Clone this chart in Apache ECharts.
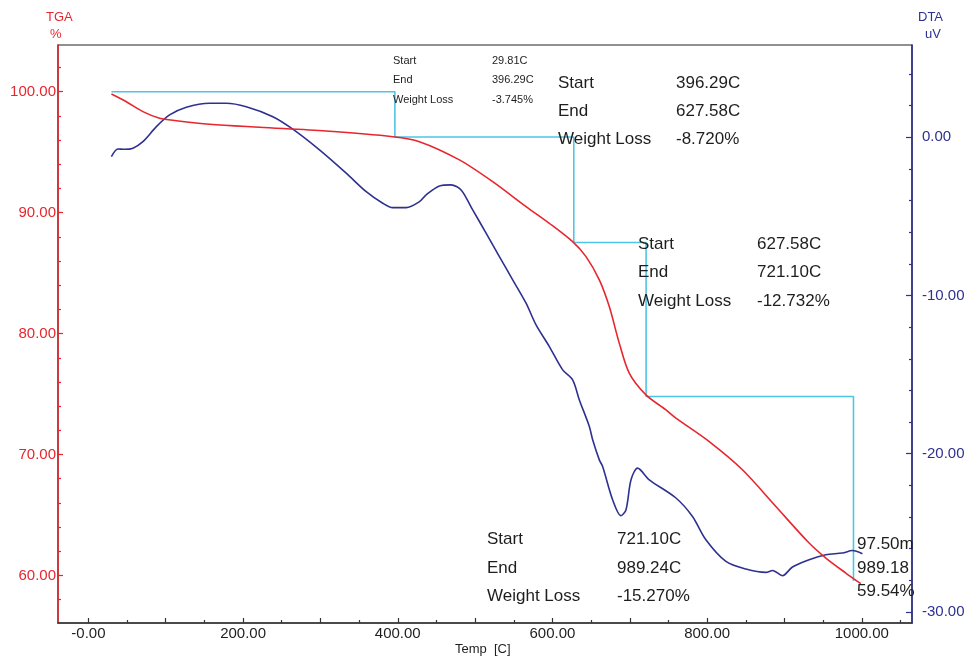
<!DOCTYPE html>
<html>
<head>
<meta charset="utf-8">
<script src="https://cdn.jsdelivr.net/npm/echarts@6/dist/echarts.min.js"></script>
<style>
html,body{margin:0;padding:0;background:#fff;}
#chart{width:968px;height:662px;}
</style>
</head>
<body>
<div id="chart"></div>
<script>
// ---- data ----
var tgaTemp  = [29.8, 49.1, 70.5, 92.1, 113.7, 156.7, 221.3, 307.5, 393.5, 428.0, 479.7, 522.7, 565.9, 596.0, 626.1, 643.4, 660.6, 673.5, 686.4, 699.3, 720.9, 746.8, 759.7, 802.7, 845.7, 888.9, 931.9, 953.5, 979.3, 998.7];
var tgaValue = [99.81, 99.17, 98.35, 97.80, 97.60, 97.31, 97.06, 96.75, 96.28, 95.87, 94.36, 92.56, 90.50, 89.12, 87.60, 86.36, 84.44, 82.23, 79.21, 76.73, 74.93, 73.69, 73.01, 71.07, 68.74, 65.70, 62.68, 61.44, 60.20, 59.32];

var dtaTemp  = [29.7, 38.2, 46.9, 57.6, 70.5, 87.9, 105.0, 126.6, 156.7, 178.3, 204.1, 238.5, 264.3, 298.8, 333.3, 359.2, 380.6, 393.5, 410.9, 428.0, 436.7, 453.9, 469.0, 481.9, 496.9, 514.2, 531.4, 548.6, 565.9, 578.8, 596.0, 613.2, 626.1, 634.8, 647.7, 652.0, 660.6, 664.9, 677.8, 688.6, 695.1, 701.6, 710.1, 725.2, 759.7, 781.1, 798.4, 824.3, 850.1, 876.0, 884.6, 897.4, 910.3, 931.9, 953.5, 974.9, 987.8, 1000.8];
var dtaValue = [-1.23, -0.74, -0.76, -0.69, -0.28, 0.67, 1.41, 1.90, 2.15, 2.15, 1.93, 1.30, 0.51, -0.80, -2.27, -3.44, -4.17, -4.45, -4.45, -4.07, -3.64, -3.08, -3.01, -3.33, -4.59, -6.06, -7.54, -9.01, -10.49, -11.86, -13.23, -14.70, -15.33, -16.60, -18.28, -19.12, -20.39, -20.81, -22.91, -23.92, -23.54, -21.65, -20.91, -21.65, -22.80, -23.97, -25.44, -26.81, -27.29, -27.50, -27.38, -27.71, -27.16, -26.70, -26.39, -26.28, -26.12, -26.32];

// weight-loss steps (start temperature of each step + final end), losses in %
var stepTemps = [29.81, 396.29, 627.58, 721.10, 989.24];
var stepLoss  = [3.745, 8.720, 12.732, 15.270];
var startWeight = 100;
var endReadout = ['97.50m', '989.18', '59.54%'];

// axis ticks
var xLabelValues = [0, 200, 400, 600, 800, 1000];
var xMajorTicks  = [0, 100, 200, 300, 400, 500, 600, 700, 800, 900, 1000];
var xMinorTicks  = [50, 150, 250, 350, 450, 550, 650, 750, 850, 950, 1050];
var tgaLabels    = [60, 70, 80, 90, 100];
var tgaMinor     = [58, 62, 64, 66, 68, 72, 74, 76, 78, 82, 84, 86, 88, 92, 94, 96, 98, 102];
var dtaLabels    = [-30, -20, -10, 0];
var dtaMinor     = [-28, -26, -24, -22, -18, -16, -14, -12, -8, -6, -4, -2, 2, 4];

// ---- build ----
var FONT = '"Liberation Sans", Arial, sans-serif';
var RED = '#e8262d', BLUE = '#2e318f', CYAN = '#4fc4e6', DARK = '#1e1e1e';

function pairs(xs, ys){ return xs.map(function(x,i){ return [x, ys[i]]; }); }

var stepLine = [];
var w = startWeight;
stepLine.push([stepTemps[0], w]);
for (var i = 0; i < stepLoss.length; i++) {
  stepLine.push([stepTemps[i+1], w]);
  w = w - stepLoss[i];
  stepLine.push([stepTemps[i+1], +w.toFixed(3)]);
}

var chart = echarts.init(document.getElementById('chart'), null, {renderer: 'canvas'});

function yAxisMajor(pos, min, max, color, ticks, labels, margin, tickLen){
  return {
    type: 'value', position: pos, min: min, max: max,
    axisLine: {show: true, onZero: false, lineStyle: {color: color, width: 1.5}},
    axisTick: {show: true, inside: true, length: tickLen, customValues: ticks, lineStyle: {color: color, width: 1.2}},
    axisLabel: {show: true, customValues: labels, margin: margin, color: color, fontSize: 15, fontFamily: FONT,
      formatter: function(v){ return v.toFixed(2); }},
    splitLine: {show: false}
  };
}
function yAxisMinor(pos, min, max, color, ticks){
  return {
    type: 'value', position: pos, min: min, max: max,
    axisLine: {show: false, onZero: false},
    axisTick: {show: true, inside: true, length: 3, customValues: ticks, lineStyle: {color: color, width: 1.2}},
    axisLabel: {show: false},
    splitLine: {show: false}
  };
}

var TGA_MIN = 56.07, TGA_MAX = 103.86, DTA_MIN = -30.70, DTA_MAX = 5.83, X_MIN = -39.3, X_MAX = 1064.9;

var labelTexts = ['Start', 'End', 'Weight Loss'];
function block(x1, x2, ys, values, size){
  var out = [];
  for (var k = 0; k < 3; k++) {
    out.push({type: 'text', left: x1, top: ys[k], style: {text: labelTexts[k], fill: DARK, font: size + 'px ' + FONT, textVerticalAlign: 'middle'}, z: 100});
    out.push({type: 'text', left: x2, top: ys[k], style: {text: values[k], fill: DARK, font: size + 'px ' + FONT, textVerticalAlign: 'middle'}, z: 100});
  }
  return out;
}
function stepValues(i){
  return [stepTemps[i].toFixed(2) + 'C', stepTemps[i+1].toFixed(2) + 'C', '-' + stepLoss[i].toFixed(3) + '%'];
}

var graphics = [];
graphics = graphics.concat(block(393, 492, [55, 74, 94], stepValues(0), 11));
graphics = graphics.concat(block(558, 676, [75, 103, 131], stepValues(1), 17));
graphics = graphics.concat(block(638, 757, [236, 264, 293], stepValues(2), 17));
graphics = graphics.concat(block(487, 617, [531, 560, 588], stepValues(3), 17));
[536, 560, 583].forEach(function(y, k){
  graphics.push({type: 'text', left: 857, top: y, style: {text: endReadout[k], fill: DARK, font: '17px ' + FONT, textVerticalAlign: 'middle'}, z: 100});
});
graphics.push({type: 'text', left: 46, top: 11, style: {text: 'TGA', fill: RED, font: '13px ' + FONT, textAlign: 'center'}});
graphics.push({type: 'text', left: 50, top: 28, style: {text: '%', fill: RED, font: '13px ' + FONT, textAlign: 'center'}});
graphics.push({type: 'text', left: 918, top: 11, style: {text: 'DTA', fill: BLUE, font: '13px ' + FONT}});
graphics.push({type: 'text', left: 925, top: 28, style: {text: 'uV', fill: BLUE, font: '13px ' + FONT}});
graphics.push({type: 'text', left: 455, top: 643, style: {text: 'Temp  [C]', fill: DARK, font: '13px ' + FONT}});

var option = {
  animation: false,
  backgroundColor: '#fff',
  grid: {left: 58, right: 56, top: 45, bottom: 39, show: true, borderColor: '#222', borderWidth: 1.2},
  xAxis: [
    {
      type: 'value', position: 'bottom', min: X_MIN, max: X_MAX,
      axisLine: {show: true, onZero: false, lineStyle: {color: '#333', width: 1.5}},
      axisTick: {show: true, inside: true, length: 5, customValues: xMajorTicks, lineStyle: {color: '#333', width: 1.2}},
      axisLabel: {show: true, customValues: xLabelValues, margin: 3, color: DARK, fontSize: 15, fontFamily: FONT,
        formatter: function(v){ return v === 0 ? '-0.00' : v.toFixed(2); }},
      splitLine: {show: false}
    },
    {
      type: 'value', position: 'bottom', min: X_MIN, max: X_MAX,
      axisLine: {show: false, onZero: false},
      axisTick: {show: true, inside: true, length: 3, customValues: xMinorTicks, lineStyle: {color: '#333', width: 1.2}},
      axisLabel: {show: false},
      splitLine: {show: false}
    }
  ],
  yAxis: [
    yAxisMajor('left', TGA_MIN, TGA_MAX, RED, tgaLabels, tgaLabels, 2, 5),
    yAxisMajor('right', DTA_MIN, DTA_MAX, BLUE, dtaLabels, dtaLabels, 10, 6),
    yAxisMinor('left', TGA_MIN, TGA_MAX, RED, tgaMinor),
    yAxisMinor('right', DTA_MIN, DTA_MAX, BLUE, dtaMinor)
  ],
  series: [
    {
      name: 'Steps', type: 'line', xAxisIndex: 0, yAxisIndex: 0, data: stepLine,
      showSymbol: false, lineStyle: {color: CYAN, width: 1.6}, z: 2, silent: true
    },
    {
      name: 'DTA', type: 'line', xAxisIndex: 0, yAxisIndex: 1, data: pairs(dtaTemp, dtaValue),
      showSymbol: false, smooth: 0.3, lineStyle: {color: BLUE, width: 1.6}, z: 3, silent: true
    },
    {
      name: 'TGA', type: 'line', xAxisIndex: 0, yAxisIndex: 0, data: pairs(tgaTemp, tgaValue),
      showSymbol: false, smooth: 0.3, lineStyle: {color: RED, width: 1.6}, z: 4, silent: true
    }
  ],
  graphic: graphics
};
chart.setOption(option);
</script>
</body>
</html>
